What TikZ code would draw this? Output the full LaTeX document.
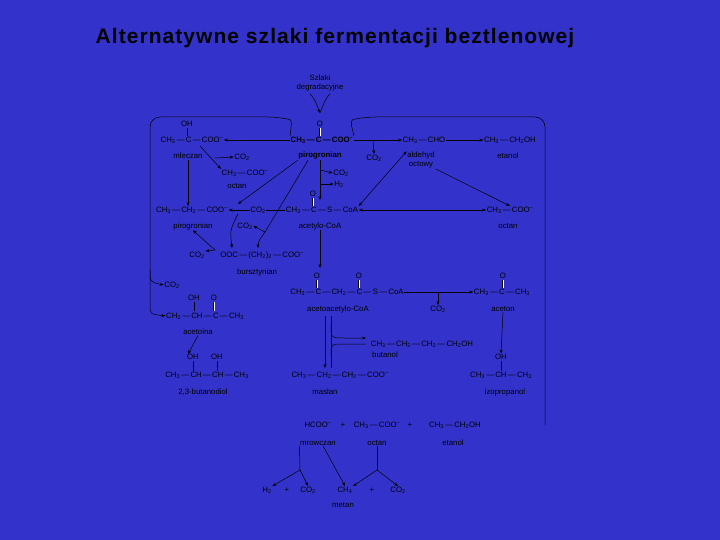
\documentclass[tikz,border=0pt]{standalone}
\usepackage{fontspec}
\setmainfont{Liberation Sans}
\usetikzlibrary{arrows.meta}
\newcommand\bd{\,—\,}
\newcommand\sst[1]{\textsubscript{#1}}
\newcommand\mi{\textsuperscript{–}}
\begin{document}
\begin{tikzpicture}[x=1pt,y=-1pt,
  t/.style={font=\fontsize{7.8}{8.8}\selectfont,inner sep=0.5pt,text=black},
  ar/.style={-{Stealth[length=4pt,width=3pt]},line width=0.5pt,black},
  dar/.style={{Stealth[length=4pt,width=3pt]}-{Stealth[length=4pt,width=3pt]},line width=0.5pt,black},
  ln/.style={line width=0.5pt,black},
  dbl/.style={line width=0.4pt,black,double distance=1pt}]
\fill[fill={rgb,255:red,51;green,51;blue,204}] (0,0) rectangle (720,540);
\node[font=\fontsize{21}{25}\selectfont\bfseries\addfontfeatures{LetterSpace=5}] (title) at (335,38) {Alternatywne szlaki fermentacji beztlenowej};
% top
\node[t,align=center] (szl) at (320,83) {Szlaki\\degradacyjne};
\coordinate (in) at (320,113);
\draw[ar] (szl.south) ++(-10,2) .. controls (315,100) .. (in);
\draw[ln] (szl.south) ++(10,2) .. controls (325,100) .. (in);
% row 1
\node[t] (lac) at (192,140) {CH\sst3\bd C\bd COO\mi};
\node[t] (lacOH) at (187,124) {OH};
\draw[ln] (187,128)--(187,136);
\node[t,font=\fontsize{7.8}{8.8}\selectfont\bfseries] (pyr) at (322,140) {CH\sst3\bd C\bd COO\mi};
\node[t] (pyrO) at (320,124) {O};
\draw[dbl] (320,128)--(320,136);
\node[t] (ald) at (424,140) {CH\sst3\bd CHO};
\node[t] (eth) at (510,140) {CH\sst3\bd CH\sst2OH};
\node[t] (mlec) at (188,156) {mleczan};
\node[t] (co2a) at (242,157) {CO\sst2};
\node[t,font=\fontsize{7.8}{8.8}\selectfont\bfseries] (pyrl) at (320,156) {pirogronian};
\node[t] (co2b) at (374,158) {CO\sst2};
\node[t,align=center] (aldl) at (421,160) {aldehyd\\octowy};
\node[t] (ethl) at (508,156) {etanol};
\node[t] (oct1) at (245,173) {CH\sst3\bd COO\mi};
\node[t] (oct1l) at (237,186) {octan};
\node[t] (co2c) at (341,173) {CO\sst2};
\node[t] (h2) at (339,184) {H\sst2};
% row 2
\node[t] (prop) at (192,210) {CH\sst3\bd CH\sst2\bd COO\mi};
\node[t] (co2d) at (258,210) {CO\sst2};
\node[t] (acc) at (322,210) {CH\sst3\bd C\bd S\bd CoA};
\node[t] (accO) at (313,194) {O};
\draw[dbl] (313,198)--(313,206);
\node[t] (oct2) at (510,210) {CH\sst3\bd COO\mi};
\node[t] (propl) at (193,226) {pirogronian};
\node[t] (co2e) at (245,226) {CO\sst2};
\node[t] (accl) at (320,226) {acetylo-CoA};
\node[t] (oct2l) at (508,226) {octan};
\node[t] (co2f) at (197,255) {CO\sst2};
\node[t] (succ) at (262,255) {OOC\bd (CH\sst2)\sst2\bd COO\mi};
\node[t] (succl) at (257,272) {bursztynian};
% row 3
\node[t] (aac) at (347,292) {CH\sst3\bd C\bd CH\sst2\bd C\bd S\bd CoA};
\node[t] (aacO1) at (317,276) {O};
\node[t] (aacO2) at (359,276) {O};
\draw[dbl] (317,280)--(317,288);
\draw[dbl] (359,280)--(359,288);
\node[t] (acet) at (502,292) {CH\sst3\bd C\bd CH\sst3};
\node[t] (acetO) at (503,276) {O};
\draw[dbl] (503,280)--(503,288);
\node[t] (co2g) at (172,285) {CO\sst2};
\node[t] (aacl) at (338,309) {acetoacetylo-CoA};
\node[t] (co2h) at (438,309) {CO\sst2};
\node[t] (acetl) at (503,309) {aceton};
\node[t] (acoin) at (205,316) {CH\sst3\bd CH\bd C\bd CH\sst3};
\node[t] (acoinOH) at (194,298) {OH};
\node[t] (acoinO) at (214,298) {O};
\draw[ln] (194,302)--(194,311);
\draw[dbl] (214,302)--(214,311);
\node[t] (acoinl) at (198,332) {acetoina};
\node[t] (but) at (422,344) {CH\sst3\bd CH\sst2\bd CH\sst2\bd CH\sst2OH};
\node[t] (butl) at (385,355) {butanol};
% row 4
\node[t] (diol) at (207,375) {CH\sst3\bd CH\bd CH\bd CH\sst3};
\node[t] (diolOH1) at (193,357) {OH};
\node[t] (diolOH2) at (217,357) {OH};
\draw[ln] (193,361)--(193,371);
\draw[ln] (217,361)--(217,371);
\node[t] (masl) at (340,375) {CH\sst3\bd CH\sst2\bd CH\sst2\bd COO\mi};
\node[t] (izo) at (501,375) {CH\sst3\bd CH\bd CH\sst3};
\node[t] (izoOH) at (501,357) {OH};
\draw[ln] (501,361)--(501,371);
\node[t] (dioll) at (203,392) {2,3-butanodiol};
\node[t] (masll) at (325,392) {maslan};
\node[t] (izol) at (505,392) {izopropanol};
% bottom
\node[t] (form) at (318,425) {HCOO\mi};
\node[t] (p1) at (343,425) {+};
\node[t] (oct3) at (377,425) {CH\sst3\bd COO\mi};
\node[t] (p2) at (410,425) {+};
\node[t] (eth2) at (455,425) {CH\sst3\bd CH\sst2OH};
\node[t] (forml) at (318,443) {mrowczan};
\node[t] (oct3l) at (377,443) {octan};
\node[t] (eth2l) at (453,443) {etanol};
\node[t] (h2b) at (267,490) {H\sst2};
\node[t] (p3) at (287,490) {+};
\node[t] (co2i) at (308,490) {CO\sst2};
\node[t] (ch4) at (345,490) {CH\sst4};
\node[t] (p4) at (372,490) {+};
\node[t] (co2j) at (398,490) {CO\sst2};
\node[t] (metl) at (343,505) {metan};
% frame lines
\draw[ln,rounded corners=10pt] (pyr.north west) .. controls (292,120) .. (278,117) -- (150,117) -- (150,270);
\draw[ar] (150,270) .. controls (150,282) .. (co2g.west);
\draw[ar] (150,270) -- (150,305) .. controls (150,314) .. (acoin.west);
\draw[ln,rounded corners=10pt] (pyr.north east) .. controls (350,120) .. (366,117) -- (545,117) -- (545,425);
% arrows row1
\draw[ar] (pyr.west) -- (lac.east);
\draw[ar] (pyr.east) -- (ald.west);
\draw[ar] (373,140) -- (co2b.north);
\draw[ar] (ald.east) -- (eth.west);
\draw[ar] (mlec.south) -- (prop.north -| mlec.south);
\draw[ar] (200,146) -- (oct1.north west);
\draw[ar] (215,158) -- (co2a.west);
\draw[ar] (pyrl.south) -- (320,200);
\draw[ar] (320,170) -- (co2c.west);
\draw[ar] (320,184) -- (h2.west);
\draw[dar] (acc.north east) -- (aldl.north west);
\draw[ar] (aldl.south east) -- (oct2.north);
\draw[dar] (acc.east) -- (oct2.west);
% propionate / succinate region
\draw[ln] (acc.west) -- (co2d.east);
\draw[ar] (co2d.west) -- (prop.east);
\draw[ar] (pyrl.south west) -- (238,204);
\draw[ar] (238,214) .. controls (230,230) .. (232,248);
\draw[ar] (pyrl.south) ++(-12,0) -- (265,232) .. controls (258,242) .. (258,248);
\draw[ar] (265,232) -- (co2e.east);
\draw[ar] (215,250) -- (propl.south);
\draw[ar] (215,250) -- (co2f.north east);
% acetyl -> acetoacetyl
\draw[ar] (accl.south) -- (320,268);
\draw[ar] (aac.east) -- (acet.west);
\draw[ar] (438,292) -- (co2h.north);
\draw[ar] (acetl.south) -- (izoOH.north);
\draw[ar] (acoinl.south) -- (188,354);
\draw[ar] (325,316) -- (325,368);
\draw[ln] (331,316) -- (331,368);
\draw[ar] (331,325) .. controls (331,338) .. (345,338) -- (366,338);
\draw[ln] (331,355) .. controls (331,344) .. (345,344) -- (366,344);
% bottom arrows
\draw[ln] (forml.south west) -- (300,470);
\draw[ar] (300,470) -- (h2b.north east);
\draw[ar] (300,470) -- (co2i.north);
\draw[ar] (forml.south) ++(5,0) -- (ch4.north);
\draw[ln] (oct3l.south) -- (377,470);
\draw[ar] (377,470) -- (ch4.north east);
\draw[ar] (377,470) -- (co2j.north);
\end{tikzpicture}
\end{document}
